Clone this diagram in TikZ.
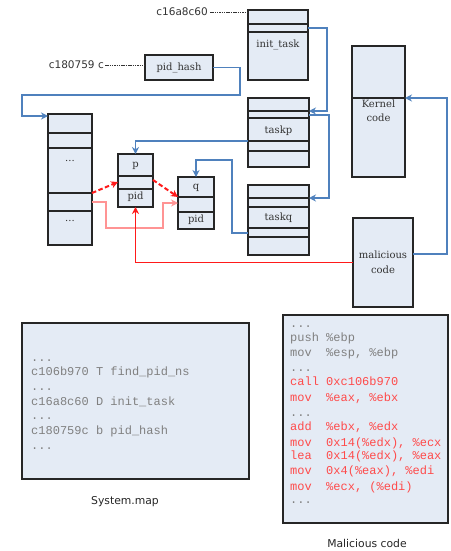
\documentclass[tikz,border=0pt]{standalone}
\usepackage{fontspec}
\setmainfont{DejaVu Serif}
\newfontfamily\capfont{DejaVu Sans}
\newfontfamily\codefont{Liberation Mono}
\usetikzlibrary{arrows.meta}
\definecolor{boxfill}{HTML}{E4EBF5}
\definecolor{linkblue}{HTML}{4F81BD}
\definecolor{linkred}{HTML}{FF1A1A}
\definecolor{linkpink}{HTML}{FF9494}
\definecolor{codegray}{HTML}{808080}
\definecolor{codered}{HTML}{FF4A4A}
\begin{document}
\begin{tikzpicture}[x=1pt,y=-1pt,
  box/.style={draw=black!85, line width=1.7pt, fill=boxfill, inner sep=0pt, outer sep=0pt, anchor=north west},
  divider/.style={draw=black!85, line width=1.6pt},
  lbl/.style={font=\fontsize{10}{12}\selectfont, text=black!80, inner sep=0pt},
  tip/.style={-{Stealth[length=7pt,width=7pt]}},
  bluelink/.style={draw=linkblue, line width=1.5pt, tip},
  redlink/.style={draw=linkred, line width=1.6pt, tip},
  pinklink/.style={draw=linkpink, line width=1.6pt, tip},
  reddash/.style={draw=linkred, line width=2pt, dash pattern=on 4.5pt off 2.5pt, tip},
  addr/.style={font=\capfont\fontsize{10.5}{12}\selectfont, text=black!80, inner sep=0pt, anchor=east},
  leader/.style={draw=black!80, line width=0.8pt, dash pattern=on 1.5pt off 0.8pt},
  code/.style={font=\codefont\fontsize{12}{14}\selectfont, text=codegray, anchor=base west, inner sep=0pt},
  redcode/.style={code, text=codered},
  caption/.style={font=\capfont\fontsize{10.8}{13}\selectfont, text=black!85, inner sep=0pt}
]
\useasboundingbox (0,0) rectangle (450,551);

% ---------- boxes ----------
\node[box, minimum width=60pt, minimum height=70pt] (inittask) at (248,10) {};
\node[box, minimum width=68pt, minimum height=25pt] (pidhash) at (145,55) {};
\node[box, minimum width=44pt, minimum height=131pt] (big) at (48,114) {};
\node[box, minimum width=35pt, minimum height=53pt] (p) at (118,154) {};
\node[box, minimum width=36pt, minimum height=52pt] (q) at (178,177) {};
\node[box, minimum width=61pt, minimum height=69pt] (taskp) at (248,98) {};
\node[box, minimum width=61pt, minimum height=70pt] (taskq) at (248,185) {};
\node[box, minimum width=53pt, minimum height=131pt] (kernel) at (352,46) {};
\node[box, minimum width=60pt, minimum height=89pt] (malicious) at (353,218) {};
\node[box, minimum width=227pt, minimum height=156pt] (sysmap) at (22,323) {};
\node[box, minimum width=165pt, minimum height=208pt] (malcode) at (283,315) {};

% ---------- dividers ----------
\foreach \yy in {24,32} \draw[divider] (inittask.west |- 0,\yy) -- (inittask.east |- 0,\yy);
\foreach \yy in {133,148,193,211} \draw[divider] (big.west |- 0,\yy) -- (big.east |- 0,\yy);
\foreach \yy in {176,189} \draw[divider] (p.west |- 0,\yy) -- (p.east |- 0,\yy);
\foreach \yy in {197,212} \draw[divider] (q.west |- 0,\yy) -- (q.east |- 0,\yy);
\foreach \yy in {111,118,141,151} \draw[divider] (taskp.west |- 0,\yy) -- (taskp.east |- 0,\yy);
\foreach \yy in {198,207,228,237} \draw[divider] (taskq.west |- 0,\yy) -- (taskq.east |- 0,\yy);
\draw[divider] (kernel.west |- 0,98) -- (kernel.east |- 0,98);

% ---------- box labels ----------
\node[lbl] (inittaskL) at (278,45) {init\_task};
\node[lbl] (pidhashL) at (179,67.5) {pid\_hash};
\node[lbl, anchor=base] (bigL1) at (70,161) {...};
\node[lbl, anchor=base] (bigL2) at (70,221) {...};
\node[lbl] (pL1) at (135.5,166) {p};
\node[lbl] (pL2) at (135.5,197) {pid};
\node[lbl] (qL1) at (196,188) {q};
\node[lbl] (qL2) at (196,220) {pid};
\node[lbl] (taskpL) at (278.5,131) {taskp};
\node[lbl] (taskqL) at (278.5,218) {taskq};
\node[lbl, align=center, font=\fontsize{10}{14}\selectfont] (kernelL) at (378.5,111) {Kernel\\code};
\node[lbl, align=center, font=\fontsize{10}{15}\selectfont] (maliciousL) at (383,262) {malicious\\code};

% ---------- address labels ----------
\node[addr] (addr1) at (208,12) {c16a8c60};
\draw[leader] ([xshift=2pt]addr1.east) -- (inittask.west |- addr1.east);
\node[addr] (addr2) at (104,65) {c180759 c};
\draw[leader] ([xshift=1pt]addr2.east) -- (pidhash.west |- addr2.east);

% ---------- blue links ----------
\draw[bluelink] (pidhash.east) -- ++(27,0) |- (22,95) |- ([yshift=-2pt]big.north west);
\draw[bluelink] ([yshift=-18pt]inittask.north east) -- (327,28) |- ([yshift=-13pt]taskp.north east);
\draw[bluelink] ([yshift=-17pt]taskp.north east) -- (329,115) |- ([yshift=-13pt]taskq.north east);
\draw[bluelink] ([yshift=-43pt]taskp.north west) -| (p.north);
\draw[bluelink] ([yshift=-48pt]taskq.north west) -- (232,233) -- (232,160) -| (q.north);
\draw[bluelink] ([yshift=-36pt]malicious.north east) -- (447,254) |- ([yshift=-52pt]kernel.north east);

% ---------- red links ----------
\draw[pinklink] ([yshift=-88pt]big.north east) -- (106,202) -- (106,228) -- (163,228) -- (163,203) -- ([yshift=-26pt]q.north west);
\draw[redlink] (malicious.west) -| (p.south);
\draw[reddash] ([yshift=-79pt]big.north east) -- ([yshift=-28pt]p.north west);
\draw[reddash] ([yshift=-26pt]p.north east) -- ([yshift=-20pt]q.north west);

% ---------- System.map ----------
\node[code] (s1) at (31,361.5) {...};
\node[code] (s2) at (31,375.5) {c106b970 T find\_pid\_ns};
\node[code] (s3) at (31,390) {...};
\node[code] (s4) at (31,405) {c16a8c60 D init\_task};
\node[code] (s5) at (31,419) {...};
\node[code] (s6) at (31,434) {c180759c b pid\_hash};
\node[code] (s7) at (31,449) {...};
\node[caption] (sysmapC) at (125,502) {System.map};

% ---------- Malicious code ----------
\node[code] (m1) at (290,327) {...};
\node[code] (m2) at (290,341.5) {push \%ebp};
\node[code] (m3) at (290,356.5) {mov\ \ \%esp, \%ebp};
\node[code] (m4) at (290,371) {...};
\node[redcode] (m5) at (290,385.5) {call 0xc106b970};
\node[redcode] (m6) at (290,401.5) {mov\ \ \%eax, \%ebx};
\node[code] (m7) at (290,416) {...};
\node[redcode] (m8) at (290,430.5) {add\ \ \%ebx, \%edx};
\node[redcode] (m9) at (290,446) {mov\ \ 0x14(\%edx), \%ecx};
\node[redcode] (m10) at (290,459.5) {lea\ \ 0x14(\%edx), \%eax};
\node[redcode] (m11) at (290,474.5) {mov\ \ 0x4(\%eax), \%edi};
\node[redcode] (m12) at (290,490) {mov\ \ \%ecx, (\%edi)};
\node[code] (m13) at (290,503) {...};
\node[caption] (malcodeC) at (367,543) {Malicious code};
\end{tikzpicture}
\end{document}
